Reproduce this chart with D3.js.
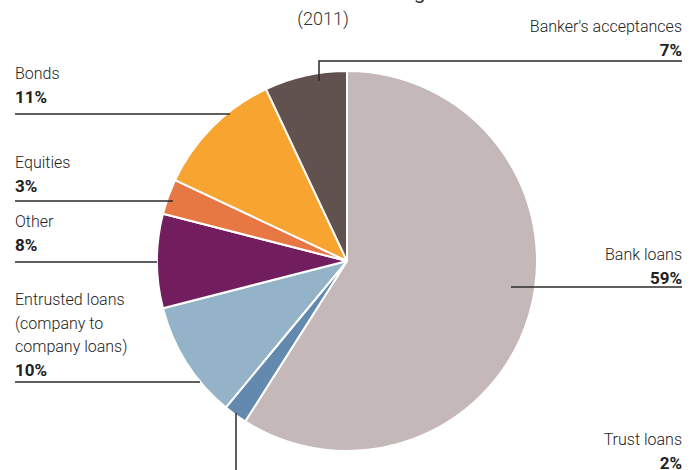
<!DOCTYPE html>
<html>
<head>
<meta charset="utf-8">
<script src="https://cdn.jsdelivr.net/npm/d3@7"></script>
<style>
  html, body { margin: 0; padding: 0; background: #fff; }
  svg { display: block; font-family: Roboto, "Noto Sans", sans-serif; }
</style>
</head>
<body>
<svg id="chart" width="700" height="470"></svg>
<script>
// Composition of total social financing, 2011 (share of total, %)
const categories = [
  "Bank loans",
  "Trust loans",
  "Entrusted loans (company to company loans)",
  "Other",
  "Equities",
  "Bonds",
  "Banker's acceptances"
];
const shares = [59, 2, 10, 8, 3, 11, 7];
const sliceColors = ["#c5b8b8", "#6389ae", "#94b3c8", "#721d5e", "#e87843", "#f7a530", "#62524f"];

// Label text lines (name lines, then the bold share)
const labelLines = [
  ["Bank loans"],
  ["Trust loans"],
  ["Entrusted loans", "(company to", "company loans)"],
  ["Other"],
  ["Equities"],
  ["Bonds"],
  ["Banker's acceptances"]
];

const svg = d3.select("#chart");
const cx = 347, cy = 261, radius = 190;

// Title (runs off the top edge) and year
svg.append("text")
  .attr("x", 323).attr("y", -1)
  .attr("text-anchor", "middle")
  .attr("font-size", 21)
  .attr("fill", "#333")
  .text("Total Social Financing");
svg.append("text")
  .attr("x", 323).attr("y", 25)
  .attr("text-anchor", "middle")
  .attr("font-size", 18)
  .attr("font-weight", 300)
  .attr("fill", "#333")
  .text("(2011)");

const pie = d3.pie().sort(null).value(d => d).startAngle(0).endAngle(2 * Math.PI);
const arc = d3.arc().innerRadius(0).outerRadius(radius);
const arcs = pie(shares);

const g = svg.append("g").attr("transform", `translate(${cx},${cy})`);
g.selectAll("path.slice")
  .data(arcs)
  .join("path")
  .attr("class", "slice")
  .attr("d", arc)
  .attr("fill", (d, i) => sliceColors[i])
  .attr("stroke", "#fff")
  .attr("stroke-width", 2)
  .attr("stroke-linejoin", "round");

// Label placement: side, first baseline, leader path
const lineH = 23.5;
const layout = [
  { side: "right", x: 682, y: 260, leader: [[511, 287], [682, 287]] },
  { side: "right", x: 682, y: 445, leader: [[236, 413], [236, 480]] },
  { side: "left",  x: 15,  y: 305, leader: [[15, 382], [200, 382]] },
  { side: "left",  x: 15,  y: 227, leader: [[15, 262], [157, 262]] },
  { side: "left",  x: 15,  y: 168, leader: [[15, 201], [173, 201]] },
  { side: "left",  x: 15,  y: 79,  leader: [[15, 114], [230, 114]] },
  { side: "right", x: 682, y: 32,  leader: [[319, 81], [319, 61], [682, 61]] }
];

const labels = svg.append("g").attr("class", "labels");
layout.forEach((L, i) => {
  const anchor = L.side === "right" ? "end" : "start";
  const t = labels.append("text")
    .attr("text-anchor", anchor)
    .attr("font-size", 16);
  labelLines[i].forEach((s, k) => {
    t.append("tspan")
      .attr("x", L.x)
      .attr("y", L.y + k * lineH)
      .attr("font-weight", 300)
      .attr("fill", "#222")
      .text(s);
  });
  t.append("tspan")
    .attr("x", L.x)
    .attr("y", L.y + labelLines[i].length * lineH)
    .attr("font-weight", 700)
    .attr("font-size", 17)
    .attr("fill", "#222")
    .text(shares[i] + "%");

  labels.append("path")
    .attr("d", d3.line()(L.leader))
    .attr("fill", "none")
    .attr("stroke", "#2a2a2a")
    .attr("stroke-width", 1.5);
});
</script>
</body>
</html>
